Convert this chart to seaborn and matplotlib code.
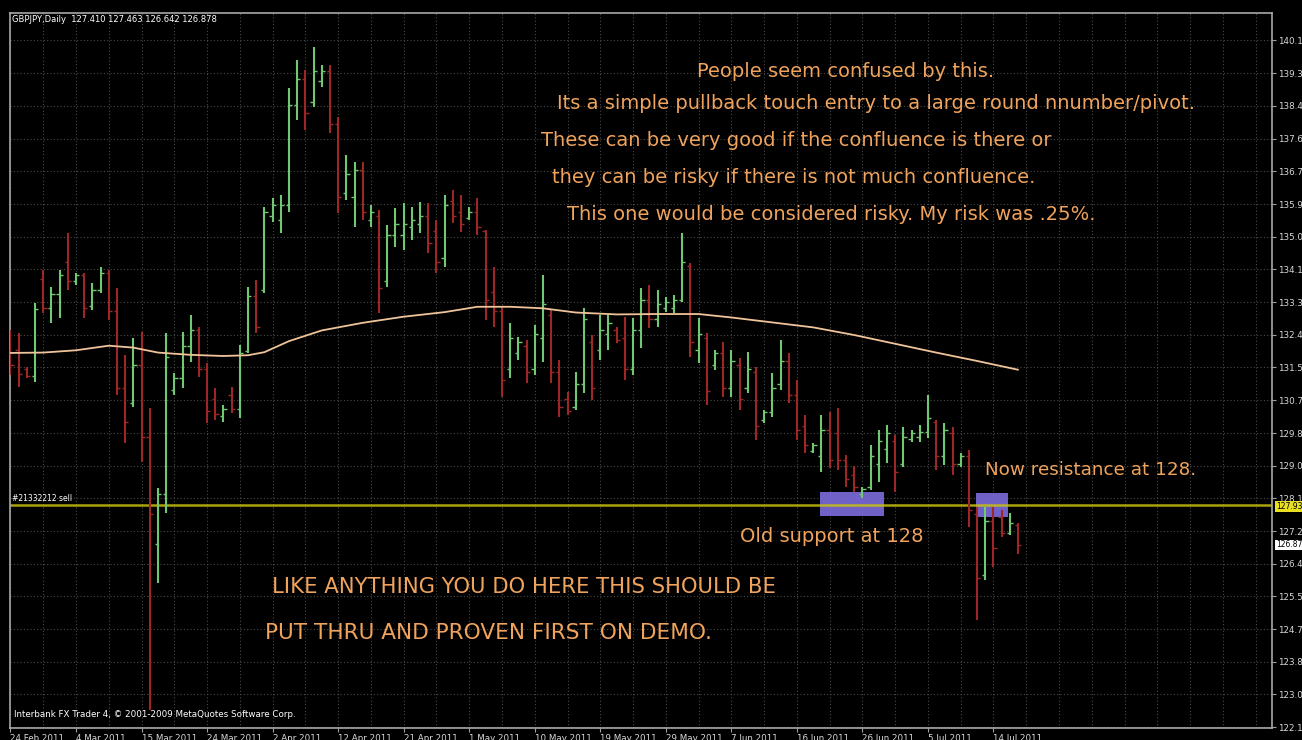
import numpy as np
import pandas as pd
import seaborn as sns
import matplotlib.pyplot as plt
from matplotlib.patches import Rectangle

# GBPJPY daily bars, bar index 0..123
opens = [132.30, 132.00, 131.50, 131.30, 133.85, 133.10, 133.45, 134.30, 133.80, 133.95,
         133.15, 133.55, 134.00, 133.00, 131.00, 130.60, 131.60, 129.70, 126.90, 128.20,
         130.95, 131.25, 132.10, 132.50, 131.50, 130.70, 130.25, 130.80, 130.45, 131.95,
         133.40, 133.55, 135.50, 135.40, 135.80, 138.40, 139.10, 138.50, 139.05, 139.30,
         137.90, 136.10, 136.00, 136.70, 135.40, 135.50, 133.80, 135.00, 135.00, 135.20,
         135.30, 135.50, 135.10, 134.40, 135.90, 135.60, 135.45, 135.60, 135.10, 133.50,
         133.00, 131.50, 131.90, 132.10, 131.50, 132.30, 132.90, 131.40, 130.70, 130.50,
         131.10, 132.20, 132.00, 132.40, 132.50, 132.30, 131.50, 132.50, 133.30, 132.80,
         133.10, 133.10, 133.30, 134.20, 132.00, 132.30, 131.60, 131.90, 131.00, 131.60,
         131.00, 131.40, 130.15, 130.35, 131.10, 131.70, 130.80, 130.00, 129.35, 129.20,
         129.90, 129.80, 129.10, 128.70, 128.20, 128.40, 129.00, 129.40, 129.60, 129.00,
         129.65, 129.70, 129.85, 130.10, 129.20, 129.80, 129.00, 129.20, 127.70, 126.10,
         127.50, 127.60, 127.20, 127.41]
highs = [132.51, 132.44, 131.55, 133.22, 134.09, 133.64, 134.09, 135.06, 134.01, 134.01,
         133.75, 134.17, 134.09, 133.61, 131.86, 132.30, 132.46, 130.47, 128.37, 132.43,
         131.39, 132.46, 132.91, 132.59, 131.65, 130.99, 130.55, 131.02, 132.12, 133.64,
         133.82, 135.74, 135.97, 136.05, 138.86, 139.59, 139.33, 139.93, 139.46, 139.46,
         138.10, 137.10, 136.92, 136.92, 135.79, 135.66, 135.27, 135.71, 135.84, 135.74,
         135.87, 135.84, 135.40, 136.05, 136.18, 136.05, 135.74, 135.97, 135.14, 134.17,
         133.12, 132.70, 132.33, 132.25, 132.64, 133.95, 133.04, 131.73, 130.89, 131.41,
         133.09, 132.38, 132.91, 132.91, 132.59, 132.85, 132.83, 133.61, 133.69, 133.56,
         133.38, 133.43, 135.06, 134.27, 132.83, 132.43, 131.99, 132.20, 131.99, 131.78,
         131.94, 131.54, 130.42, 131.39, 132.25, 131.91, 131.20, 130.29, 129.55, 130.29,
         130.37, 130.47, 129.24, 128.95, 128.40, 129.50, 129.89, 130.02, 129.76, 129.97,
         129.89, 130.02, 130.81, 130.16, 130.08, 129.97, 129.29, 129.37, 127.88, 127.88,
         127.88, 127.80, 127.72, 127.463]
lows = [131.34, 131.02, 131.26, 131.15, 132.96, 132.70, 132.83, 133.56, 133.69, 132.83,
        133.04, 133.48, 132.78, 130.81, 129.55, 130.49, 129.05, 122.56, 125.88, 127.72,
        130.81, 130.99, 131.68, 131.28, 130.08, 130.16, 130.10, 130.34, 130.21, 131.91,
        132.43, 133.48, 135.34, 135.06, 135.61, 138.02, 137.76, 138.36, 138.88, 137.68,
        135.58, 135.92, 135.21, 135.40, 135.21, 132.96, 133.64, 134.69, 134.61, 134.87,
        135.06, 134.53, 134.01, 134.17, 135.32, 135.09, 135.40, 135.01, 132.78, 132.59,
        130.76, 131.26, 131.73, 131.12, 131.34, 131.68, 131.12, 130.24, 130.29, 130.42,
        130.86, 130.68, 131.73, 131.99, 132.17, 131.20, 131.34, 132.04, 132.56, 132.59,
        132.98, 132.96, 133.25, 131.80, 131.65, 130.55, 131.47, 130.76, 130.76, 130.42,
        130.86, 129.63, 130.08, 130.24, 130.94, 130.60, 129.63, 129.29, 129.29, 128.79,
        128.89, 128.84, 128.40, 128.27, 128.11, 128.32, 128.53, 129.03, 128.27, 128.92,
        129.58, 129.58, 129.68, 128.84, 128.97, 128.71, 128.92, 127.35, 124.91, 125.96,
        126.30, 127.09, 127.14, 126.642]
closes = [131.60, 131.35, 131.30, 133.05, 133.10, 133.45, 133.95, 133.80, 133.95, 133.10,
          133.55, 134.00, 133.00, 131.00, 130.10, 131.60, 129.70, 127.70, 128.20, 131.80,
          131.25, 132.10, 132.50, 131.50, 130.40, 130.30, 130.45, 130.45, 131.90, 133.40,
          132.60, 135.60, 135.80, 135.80, 138.40, 139.10, 138.20, 139.30, 139.30, 137.90,
          136.00, 136.60, 136.70, 135.60, 135.60, 133.60, 135.00, 135.30, 135.30, 135.40,
          135.50, 134.80, 134.30, 135.80, 135.50, 135.30, 135.60, 135.20, 133.30, 133.00,
          131.20, 132.30, 132.20, 131.40, 132.40, 133.20, 131.40, 130.50, 130.40, 131.10,
          132.80, 131.00, 132.50, 132.70, 132.25, 131.50, 132.50, 133.30, 132.80, 133.20,
          133.25, 133.30, 134.30, 132.20, 132.40, 130.90, 131.90, 131.00, 131.70, 130.70,
          131.50, 130.00, 130.35, 131.00, 131.70, 130.80, 129.90, 129.50, 129.50, 129.90,
          129.10, 129.10, 128.60, 128.40, 128.35, 129.20, 129.60, 129.80, 128.80, 129.70,
          129.80, 129.85, 130.20, 129.20, 129.90, 129.00, 129.20, 127.80, 126.00, 127.50,
          126.80, 127.20, 127.45, 126.878]

# moving average line (bar index, value)
ma_bars = [0, 4, 8, 12, 15, 18, 22, 26, 29, 31, 34, 38, 43, 48, 53, 57, 61, 65, 69, 74,
           79, 84, 88, 93, 98, 103, 108, 113, 118, 123]
ma_vals = [131.91, 131.92, 131.98, 132.10, 132.05, 131.92, 131.86, 131.83, 131.85, 131.93,
           132.22, 132.50, 132.70, 132.86, 132.98, 133.12, 133.12, 133.08, 132.97, 132.92,
           132.93, 132.93, 132.84, 132.71, 132.58, 132.38, 132.15, 131.92, 131.70, 131.47]

date_bars = [0, 8, 16, 24, 32, 40, 48, 56, 64, 72, 80, 88, 96, 104, 112, 120]
date_labels = ['24 Feb 2011', '4 Mar 2011', '15 Mar 2011', '24 Mar 2011', '2 Apr 2011',
               '12 Apr 2011', '21 Apr 2011', '1 May 2011', '10 May 2011', '19 May 2011',
               '29 May 2011', '7 Jun 2011', '16 Jun 2011', '26 Jun 2011', '5 Jul 2011',
               '14 Jul 2011']
price_ticks = [122.10, 122.96, 123.81, 124.67, 125.53, 126.39, 127.24, 128.10, 128.96,
               129.81, 130.67, 131.53, 132.39, 133.24, 134.10, 134.96, 135.81, 136.67,
               137.53, 138.39, 139.24, 140.10]
price_labels = ['122.1', '123.0', '123.8', '124.7', '125.5', '126.4', '127.2', '128.1',
                '129.0', '129.8', '130.7', '131.5', '132.4', '133.3', '134.1', '135.0',
                '135.9', '136.7', '137.6', '138.4', '139.3', '140.1']

sell_price = 127.93
last_close = 126.878

notes = ['People seem confused by this.',
         'Its a simple pullback touch entry to a large round nnumber/pivot.',
         'These can be very good if the confluence is there or',
         'they can be risky if there is not much confluence.',
         'This one would be considered risky. My risk was .25%.']

df = pd.DataFrame({'open': opens, 'high': highs, 'low': lows, 'close': closes})
df['bar'] = np.arange(len(df))
up = df[df['close'] >= df['open']]
dn = df[df['close'] < df['open']]

sns.set_style('dark', {'axes.facecolor': 'black', 'figure.facecolor': 'black'})
plt.rcParams['font.family'] = ['DejaVu Sans']

fig = plt.figure(figsize=(13.02, 7.40), dpi=100)
fig.patch.set_facecolor('black')
ax = fig.add_axes([10 / 1302, 12 / 740, 1262 / 1302, 715 / 740])
ax.set_facecolor('black')
ax.set_xlim(-0.06, 154.0)
ax.set_ylim(122.08, 140.82)

# dotted grid
for gx in range(0, 154, 4):
    ax.axvline(gx, color='#4a4a4a', lw=0.8, ls=(0, (1, 2)), zorder=0)
for gy in price_ticks:
    ax.axhline(gy, color='#4a4a4a', lw=0.8, ls=(0, (1, 2)), zorder=0)

# order zones
ax.add_patch(Rectangle((98.85, 127.64), 7.8, 0.63, fc='#7c6cdc', ec='none', alpha=0.9, zorder=1))
ax.add_patch(Rectangle((117.9, 127.62), 3.9, 0.63, fc='#7c6cdc', ec='none', alpha=0.9, zorder=1))

# sell line
ax.axhline(sell_price, color='#c8c010', lw=1.8, alpha=0.85, zorder=2)

# bars
green = '#72c872'
red = '#9e2626'
for part, col in ((up, green), (dn, red)):
    ax.vlines(part['bar'], part['low'], part['high'], color=col, lw=1.5, zorder=3)
    ax.hlines(part['open'], part['bar'] - 0.4, part['bar'], color=col, lw=1.0, zorder=3)
    ax.hlines(part['close'], part['bar'], part['bar'] + 0.4, color=col, lw=1.0, zorder=3)

sns.lineplot(x=ma_bars, y=ma_vals, ax=ax, color='#f0c49a', lw=1.3, estimator=None,
             sort=False, zorder=4)

# annotations
orange = '#efa35c'
note_pos = [(83.8, 139.28), (66.7, 138.44), (64.8, 137.49), (66.1, 136.50), (67.9, 135.53)]
for (tx, ty), txt in zip(note_pos, notes):
    ax.text(tx, ty, txt, color=orange, fontsize=14, ha='left', va='center', zorder=5)
ax.text(119.0, 128.84, 'Now resistance at 128.', color=orange, fontsize=13.2, va='center')
ax.text(89.1, 127.09, 'Old support at 128', color=orange, fontsize=14, va='center')
ax.text(31.9, 125.78, 'LIKE ANYTHING YOU DO HERE THIS SHOULD BE', color=orange,
        fontsize=15.2, va='center')
ax.text(31.1, 124.57, 'PUT THRU AND PROVEN FIRST ON DEMO.', color=orange,
        fontsize=15.6, va='center')

ax.text(0.2, sell_price + 0.04, '#21332212 sell', color='white', fontsize=5.5,
        va='bottom', zorder=5)
ax.text(0.003, 0.012, 'Interbank FX Trader 4, \u00a9 2001-2009 MetaQuotes Software Corp.',
        transform=ax.transAxes, color='white', fontsize=6.3, va='bottom')
fig.text(12 / 1302, 1 - 20 / 740, 'GBPJPY,Daily  127.410 127.463 126.642 126.878',
         color='white', fontsize=6, va='center')

# axes
ax.set_xticks(date_bars)
ax.set_xticklabels(date_labels, ha='left', fontsize=6.3, color='#d8d8d8')
ax.yaxis.tick_right()
ax.set_yticks(price_ticks)
ax.set_yticklabels(price_labels, fontsize=6.3, color='#d8d8d8')
ax.tick_params(axis='x', length=3, color='#a0a0a0', pad=1, bottom=True)
ax.tick_params(axis='y', length=3, color='#a0a0a0', pad=1, right=True, left=False)
for sp in ax.spines.values():
    sp.set_color('#a8a8a8')
    sp.set_linewidth(1.2)

ytrans = ax.get_yaxis_transform()
ax.text(1.003, sell_price - 0.05, '127.93', transform=ytrans, fontsize=5.5, color='black',
        ha='left', va='center', clip_on=False,
        bbox=dict(boxstyle='square,pad=0.1', fc='#e8e020', ec='none'))
ax.text(1.003, last_close, '126.87', transform=ytrans, fontsize=5.5, color='black',
        ha='left', va='center', clip_on=False,
        bbox=dict(boxstyle='square,pad=0.1', fc='white', ec='none'))

fig.savefig('out.png', dpi=100, facecolor='black')
